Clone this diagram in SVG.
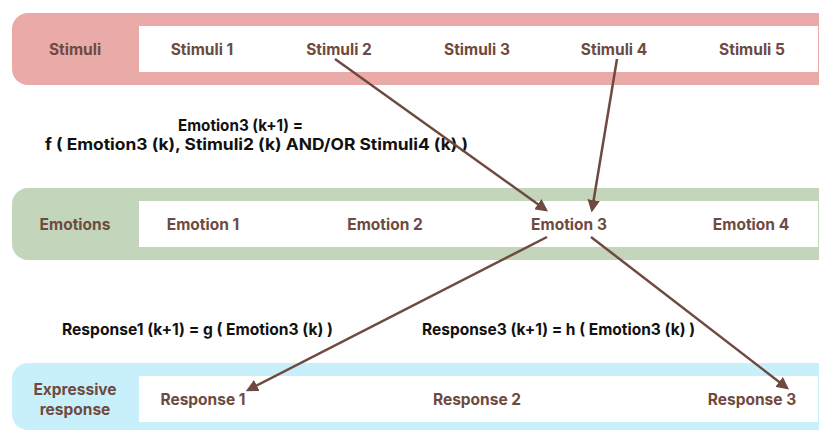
<svg xmlns="http://www.w3.org/2000/svg" width="819" height="431" viewBox="0 0 819 431">
  <defs>
    <style>
      .band-label { font-family: Inter, "Open Sans", sans-serif; font-weight: 700; font-size: 15.5px; fill: #6e4a40; text-anchor: middle; }
      .item { font-family: Inter, "Open Sans", sans-serif; font-weight: 700; font-size: 15.5px; fill: #6e4a40; text-anchor: middle; }
      .eq { font-family: Inter, "Open Sans", sans-serif; font-weight: 700; font-size: 16px; fill: #111111; text-anchor: middle; }
      .slot { fill: #ffffff; }
      .link { stroke: #6e4a40; stroke-width: 2.5; fill: none; marker-end: url(#head); }
    </style>
    <marker id="head" viewBox="0 0 10 10" refX="8" refY="5" markerWidth="5" markerHeight="5" orient="auto" markerUnits="strokeWidth">
      <path d="M0,0 L10,5 L0,10 z" fill="#6e4a40"/>
    </marker>
  </defs>

  <rect width="819" height="431" fill="#ffffff"/>

  <!-- Stimuli row -->
  <g id="stimuli">
    <rect x="12" y="13" width="840" height="72" rx="16" fill="#eaaba8"/>
    <rect class="slot" x="139" y="26" width="679" height="46"/>
    <text class="band-label" x="75" y="55">Stimuli</text>
    <text class="item" x="202" y="55">Stimuli 1</text>
    <text class="item" x="339" y="55">Stimuli 2</text>
    <text class="item" x="477" y="55">Stimuli 3</text>
    <text class="item" x="614" y="55">Stimuli 4</text>
    <text class="item" x="752" y="55">Stimuli 5</text>
  </g>

  <!-- Emotions row -->
  <g id="emotions">
    <rect x="12" y="188" width="840" height="72" rx="16" fill="#c3d5bb"/>
    <rect class="slot" x="139" y="201" width="679" height="46"/>
    <text class="band-label" x="75" y="230">Emotions</text>
    <text class="item" x="203" y="230">Emotion 1</text>
    <text class="item" x="385" y="230">Emotion 2</text>
    <text class="item" x="569" y="230">Emotion 3</text>
    <text class="item" x="751" y="230">Emotion 4</text>
  </g>

  <!-- Expressive response row -->
  <g id="responses">
    <rect x="12" y="363" width="840" height="67" rx="16" fill="#c8f0fb"/>
    <rect class="slot" x="139" y="376" width="679" height="46"/>
    <text class="band-label" x="75" y="395">Expressive</text>
    <text class="band-label" x="75" y="415">response</text>
    <text class="item" x="203" y="405">Response 1</text>
    <text class="item" x="477" y="405">Response 2</text>
    <text class="item" x="752" y="405">Response 3</text>
  </g>

  <!-- Update rules -->
  <g id="rules">
    <text class="eq" x="240.5" y="131" textLength="125" lengthAdjust="spacingAndGlyphs">Emotion3 (k+1) =</text>
    <text class="eq" x="256.5" y="150" textLength="423" lengthAdjust="spacingAndGlyphs">f ( Emotion3 (k), Stimuli2 (k) AND/OR Stimuli4 (k) )</text>
    <text class="eq" x="197.5" y="335" textLength="271" lengthAdjust="spacingAndGlyphs">Response1 (k+1) = g ( Emotion3 (k) )</text>
    <text class="eq" x="558.5" y="335" textLength="273" lengthAdjust="spacingAndGlyphs">Response3 (k+1) = h ( Emotion3 (k) )</text>
  </g>

  <!-- Connectors -->
  <g id="connectors">
    <line class="link" x1="335" y1="59" x2="546" y2="210"/>
    <line class="link" x1="617" y1="59" x2="592" y2="210"/>
    <line class="link" x1="547" y1="237" x2="248" y2="390"/>
    <line class="link" x1="591" y1="237" x2="787" y2="388"/>
  </g>
</svg>
